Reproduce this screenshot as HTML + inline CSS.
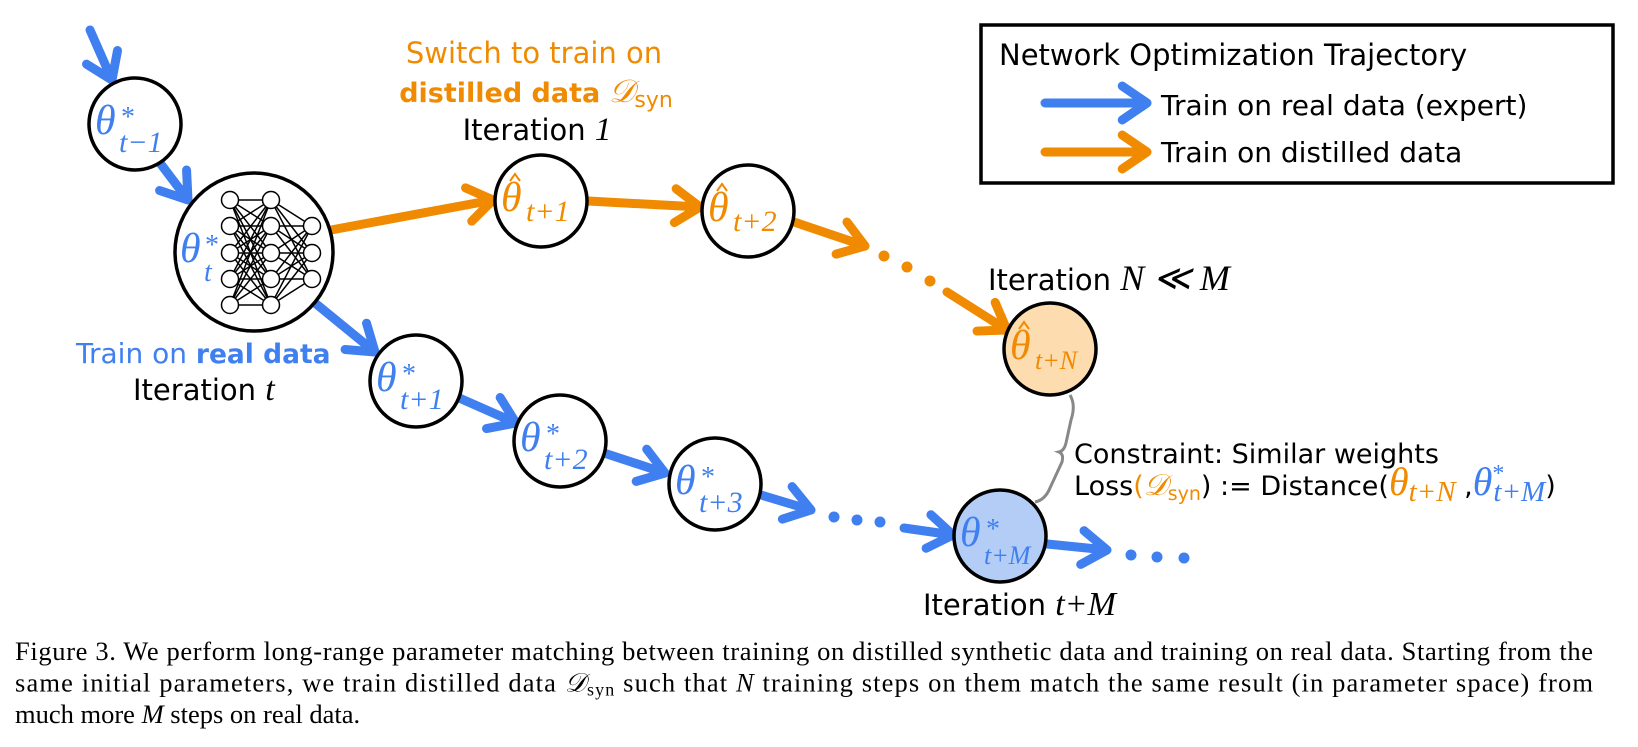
<!DOCTYPE html>
<html><head><meta charset="utf-8"><style>
body{margin:0;background:#fff;width:1638px;height:747px;overflow:hidden}
svg{display:block}
.s{font-family:"DejaVu Sans","Liberation Sans",sans-serif}
.m{font-family:"Liberation Serif",serif;font-style:italic}
.cap{font-family:"Liberation Serif",serif;font-size:26.5px}
</style></head><body>
<svg id="g" width="1638" height="747" xmlns="http://www.w3.org/2000/svg">
<g id="arrows" fill="none" stroke-linecap="round" stroke-linejoin="round"></g>
<path d="M1070,395 Q1076,405 1071,420 L1066,443 Q1064,451 1059,452 Q1064,454 1062,462 L1050,488 Q1045,500 1035,502" fill="none" stroke="#888" stroke-width="3"/>
<g stroke="#000" stroke-width="3.5" fill="#fff">
<circle cx="135" cy="124" r="46"/>
<circle cx="254" cy="252" r="79"/>
<circle cx="541" cy="201" r="46"/>
<circle cx="748" cy="211" r="46"/>
<circle cx="1050" cy="349" r="46" fill="#fddcb0"/>
<circle cx="416" cy="381" r="46"/>
<circle cx="560" cy="441" r="46"/>
<circle cx="715" cy="484" r="46"/>
<circle cx="1000" cy="536" r="46" fill="#b3cdf7"/>
</g>
<g id="nn" stroke="#000" stroke-width="1.5" fill="#fff"></g>
<g id="lbl" class="m"></g>
<g id="hats" fill="none" stroke="#f08a00" stroke-width="2"></g>
<g class="s" font-size="29">
<text x="534" y="63" text-anchor="middle" fill="#f08a00">Switch to train on</text>
<text x="536" y="102" text-anchor="middle" fill="#f08a00" font-size="27"><tspan font-weight="bold">distilled data</tspan> <tspan class="m" font-size="32">𝒟</tspan><tspan font-size="22" dy="5">syn</tspan></text>
<text x="537" y="140" text-anchor="middle" fill="#000">Iteration <tspan class="m" font-size="33">1</tspan></text>
<text x="988" y="290" fill="#000">Iteration <tspan class="m" font-size="36">N ≪ M</tspan></text>
<text x="76" y="363" fill="#3f7ff0" font-size="28">Train on <tspan font-weight="bold" font-size="26.5">real data</tspan></text>
<text x="133" y="400" fill="#000">Iteration <tspan class="m" font-size="34">t</tspan></text>
<text x="923" y="615" fill="#000">Iteration <tspan class="m" font-size="34">t+M</tspan></text>
<text x="1074" y="463" font-size="27" fill="#000">Constraint: Similar weights</text>
<text x="1074" y="495" font-size="27" fill="#000">Loss<tspan fill="#f08a00">(<tspan class="m" font-size="30">𝒟</tspan><tspan font-size="19" dy="5">syn</tspan></tspan><tspan dy="-5">) := Distance(</tspan><tspan class="m" fill="#f08a00" font-size="40">θ<tspan font-size="29" dy="6">t+N</tspan></tspan><tspan dy="-6"> ,</tspan><tspan class="m" fill="#3f7ff0" font-size="40">θ<tspan font-size="24" font-style="normal" dy="-14">*</tspan><tspan font-size="29" dx="-11" dy="20">t+M</tspan></tspan><tspan dy="-6">)</tspan></text>
</g>
<rect x="981" y="25" width="632" height="158" fill="none" stroke="#000" stroke-width="3.5"/>
<g class="s" fill="#000">
<text x="999" y="65" font-size="29">Network Optimization Trajectory</text>
<text x="1161" y="115" font-size="28">Train on real data (expert)</text>
<text x="1161" y="162" font-size="28">Train on distilled data</text>
</g>
<g fill="#f08a00"><circle cx="884" cy="256" r="5.5"/><circle cx="907" cy="267" r="5.5"/><circle cx="930" cy="281" r="5.5"/></g>
<g fill="#3f7ff0"><circle cx="834" cy="517" r="5.5"/><circle cx="857" cy="520" r="5.5"/><circle cx="880" cy="522" r="5.5"/>
<circle cx="1131" cy="555" r="5.5"/><circle cx="1157" cy="557" r="5.5"/><circle cx="1184" cy="558" r="5.5"/></g>
<text class="cap" x="15" y="660" textLength="1578" lengthAdjust="spacing">Figure 3. We perform long-range parameter matching between training on distilled synthetic data and training on real data. Starting from the</text>
<text class="cap" x="15" y="691.5" textLength="1578" lengthAdjust="spacing">same initial parameters, we train distilled data <tspan font-family="DejaVu Sans,sans-serif" font-style="italic">𝒟</tspan><tspan font-size="18" dy="4">syn</tspan><tspan dy="-4"> such that </tspan><tspan font-style="italic">N</tspan> training steps on them match the same result (in parameter space) from</text>
<text class="cap" x="15" y="723">much more <tspan font-style="italic">M</tspan> steps on real data.</text>
</svg>
<script>
var B="#3f7ff0",O="#f08a00";
var A=[[90,30,112,80,B],[160,163,188,200,B],[315,303,375,352,B],[457,397,516,423,B],[604,453,665,473,B],[761,495,811,510,B],[904,528,953,535,B],[1047,544,1107,550,B],
[331,230,493,200,O],[588,201,700,207,O],[794,222,865,246,O],[947,292,1007,330,O],[1045,103,1147,103,B],[1045,152,1147,152,O]];
var g=document.getElementById('arrows'),s='';
A.forEach(function(a){var dx=a[2]-a[0],dy=a[3]-a[1],L=Math.hypot(dx,dy),ux=dx/L,uy=dy/L,h=30,w=0.6;
var c=Math.cos(w),n=Math.sin(w);
var x1=a[2]-h*(ux*c-uy*n),y1=a[3]-h*(uy*c+ux*n),x2=a[2]-h*(ux*c+uy*n),y2=a[3]-h*(uy*c-ux*n);
s+='<path d="M'+a[0]+','+a[1]+'L'+a[2]+','+a[3]+'M'+x1+','+y1+'L'+a[2]+','+a[3]+'L'+x2+','+y2+'" stroke="'+a[4]+'" stroke-width="9"/>';});
g.innerHTML=s;
var cols=[[230,[200,226,253,279,305]],[271,[200,226,253,279,305]],[312,[226,253,279]]],t='';
for(var k=0;k<2;k++)cols[k][1].forEach(function(y1){cols[k+1][1].forEach(function(y2){t+='<line x1="'+cols[k][0]+'" y1="'+y1+'" x2="'+cols[k+1][0]+'" y2="'+y2+'"/>';});});
cols.forEach(function(c){c[1].forEach(function(y){t+='<circle cx="'+c[0]+'" cy="'+y+'" r="8.5"/>';});});
document.getElementById('nn').innerHTML=t;
var L=[[135,124,'t−1',B,1],[416,381,'t+1',B,1],[560,441,'t+2',B,1],[715,484,'t+3',B,1],[1000,536,'t+M',B,1],[541,201,'t+1',O,0],[748,211,'t+2',O,0],[1050,349,'t+N',O,0]],u='',hh='';
L.forEach(function(p){var x=p[0],y=p[1];var sm=p[2]=='t+M'||p[2]=='t+N';var fs=sm?26:30;
u+='<text x="'+(x-40)+'" y="'+(y+10)+'" font-size="42" fill="'+p[3]+'">θ</text>';
if(p[4]){u+='<text x="'+(x-14)+'" y="'+(y+2)+'" font-size="28" font-style="normal" fill="'+p[3]+'">*</text>';
u+='<text x="'+(x-16)+'" y="'+(y+28)+'" font-size="'+fs+'" fill="'+p[3]+'">'+p[2]+'</text>';}
else{u+='<text x="'+(x-15)+'" y="'+(y+20)+'" font-size="'+fs+'" fill="'+p[3]+'">'+p[2]+'</text>';
hh+='<path d="M'+(x-31)+','+(y-20)+'L'+(x-26)+','+(y-27)+'L'+(x-21)+','+(y-20)+'"/>';}});
u+='<text x="180" y="262" font-size="42" fill="'+B+'">θ</text><text x="205" y="254" font-size="28" font-style="normal" fill="'+B+'">*</text><text x="204" y="281" font-size="28" fill="'+B+'">t</text>';
document.getElementById('lbl').innerHTML=u;
document.getElementById('hats').innerHTML=hh;
</script>
</body></html>
